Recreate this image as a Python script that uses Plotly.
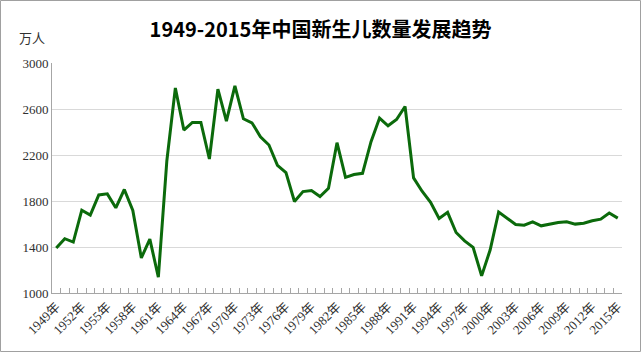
import plotly.graph_objects as go

years = list(range(1949, 2016))
labels = [f"{y}年" for y in years]
births = [1391, 1472, 1443, 1720, 1677, 1853, 1862, 1741, 1900, 1718,
          1305, 1469, 1137, 2150, 2783, 2417, 2483, 2483, 2165, 2772,
          2495, 2801, 2515, 2480, 2359, 2287, 2110, 2047, 1796, 1882,
          1891, 1839, 1911, 2307, 2006, 2030, 2041, 2316, 2521, 2454,
          2509, 2622, 2001, 1885, 1788, 1648, 1701, 1526, 1453, 1397,
          1149, 1374, 1704, 1648, 1596, 1590, 1619, 1584, 1599, 1613,
          1619, 1599, 1607, 1628, 1642, 1695, 1651]

title_text = "1949-2015年中国新生儿数量发展趋势"
unit_text = "万人"

W, H = 641, 352
ml, mr, mt, mb = 52, 19, 63, 59
pw, ph = W - ml - mr, H - mt - mb

fig = go.Figure()
fig.add_trace(go.Scatter(
    x=labels, y=births, mode="lines",
    line=dict(color="#0b6a0b", width=3),
    hoverinfo="x+y",
))

serif = "Liberation Serif, 'Noto Sans CJK SC', serif"
fig.update_layout(
    width=W, height=H,
    margin=dict(l=ml, r=mr, t=mt, b=mb),
    paper_bgcolor="white", plot_bgcolor="white",
    showlegend=False,
    title=dict(text=title_text, x=0.5, xanchor="center", y=1 - 30 / H, yanchor="middle",
               font=dict(family="'Noto Sans CJK SC', sans-serif", size=20, color="#000000", weight="bold")),
    xaxis=dict(
        type="category", tickmode="linear", tick0=0, dtick=1,
        tickson="boundaries", ticks="inside", ticklen=5,
        tickcolor="#a6a6a6", tickwidth=1, ticklabelstep=3, tickangle=-45,
        showline=True, linecolor="#a6a6a6", linewidth=1, showgrid=False,
        tickfont=dict(family=serif, size=13, color="#303030"),
        range=[-0.5, len(years) - 0.5],
    ),
    yaxis=dict(
        range=[1000, 3000], dtick=400, tick0=1000,
        showline=True, linecolor="#a6a6a6", linewidth=1,
        showgrid=True, gridcolor="#d9d9d9", gridwidth=1, zeroline=False,
        ticks="", tickfont=dict(family=serif, size=13, color="#303030"),
    ),
    annotations=[dict(text=unit_text, xref="paper", yref="paper",
                      x=-(ml - 17) / pw, y=1 + (mt - 37) / ph, xanchor="left", yanchor="middle",
                      showarrow=False, font=dict(family="'Noto Sans CJK SC', sans-serif", size=13, color="#303030"))],
    shapes=[dict(type="rect", xref="paper", yref="paper",
                 x0=-(ml - 0.5) / pw, x1=1 + (mr - 0.5) / pw,
                 y0=-(mb - 0.5) / ph, y1=1 + (mt - 0.5) / ph,
                 line=dict(color="#a0a0a0", width=1), layer="below")],
)

fig.write_html("out.html")
